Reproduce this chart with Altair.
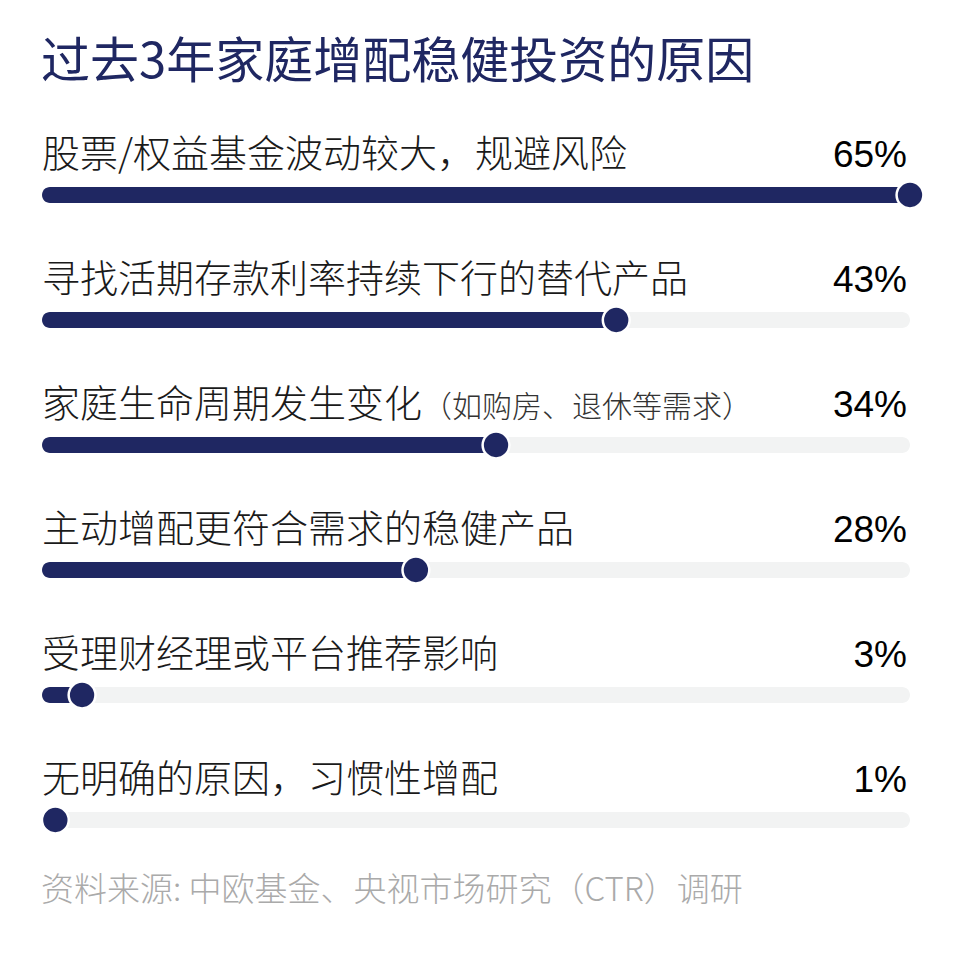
import altair as alt
import pandas as pd

title_text = "过去3年家庭增配稳健投资的原因"
source_text = "资料来源: 中欧基金、央视市场研究（CTR）调研"
reasons = [
    "股票/权益基金波动较大，规避风险",
    "寻找活期存款利率持续下行的替代产品",
    "家庭生命周期发生变化",
    "主动增配更符合需求的稳健产品",
    "受理财经理或平台推荐影响",
    "无明确的原因，习惯性增配",
]
notes = ["", "", "（如购房、退休等需求）", "", "", ""]
values = [65, 43, 34, 28, 3, 1]
track_max = 65

NAVY = "#1f2762"
TRACK = "#f2f3f3"
FONT = "Noto Sans CJK SC"
LABEL_SIZE = 38
NOTE_SIZE = 30

df = pd.DataFrame({
    "idx": list(range(len(reasons))),
    "reason": reasons,
    "note": notes,
    "value": values,
    "zero": [0] * len(values),
    "full": [track_max] * len(values),
    "vlabel": [f"{v}%" for v in values],
    "noteoff": [len(r) * LABEL_SIZE for r in reasons],
})

xs = alt.Scale(domain=[0, track_max], range=[34, 902])
ys = alt.Scale(range=[124.5, 874.5], paddingInner=0, paddingOuter=0)
Y = alt.Y("idx:O", scale=ys, axis=None)

base = alt.Chart(df)

track = base.mark_bar(orient="horizontal", size=16, cornerRadius=8, color=TRACK).encode(
    x=alt.X("zero:Q", scale=xs, axis=None), x2="full:Q", y=Y
)
bar = base.mark_bar(orient="horizontal", size=16, cornerRadius=8, color=NAVY).encode(
    x=alt.X("zero:Q", scale=xs, axis=None), x2="value:Q", y=Y
)
dot = base.mark_circle(size=720, fill=NAVY, stroke="white", strokeWidth=2.5, opacity=1).encode(
    x=alt.X("value:Q", scale=xs, axis=None), y=Y
)
label = base.mark_text(
    align="left", baseline="alphabetic", dy=-28, font=FONT, fontSize=LABEL_SIZE,
    fontWeight=300, color="#1a1a1a"
).encode(x=alt.value(34), y=Y, text="reason:N")

note = base.transform_filter("datum.note != ''").mark_text(
    align="left", baseline="alphabetic", dy=-28, font=FONT, fontSize=NOTE_SIZE,
    fontWeight=300, color="#333333"
).encode(x=alt.X("noteoff:Q", scale=alt.Scale(domain=[0, 944], range=[34, 978]), axis=None), y=Y, text="note:N")

vlabel = base.mark_text(
    align="right", baseline="alphabetic", dy=-28, font="Liberation Sans", fontSize=37, color="#000000"
).encode(x=alt.value(899), y=Y, text="vlabel:N")

title = alt.Chart(pd.DataFrame({"t": [title_text]})).mark_text(
    align="left", baseline="alphabetic", font=FONT, fontSize=49, fontWeight=400, color=NAVY
).encode(x=alt.value(33), y=alt.value(70), text="t:N")

source = alt.Chart(pd.DataFrame({"t": [source_text]})).mark_text(
    align="left", baseline="alphabetic", font=FONT, fontSize=33, fontWeight=300, color="#aaaaaa"
).encode(x=alt.value(33), y=alt.value(893), text="t:N")

chart = alt.layer(track, bar, dot, label, note, vlabel, title, source).properties(
    width=944, height=946, padding=0, autosize=alt.AutoSizeParams(type="none")
).configure_view(stroke=None).resolve_scale(x="independent")

chart.save("out.html", embed_options={"renderer": "svg", "actions": False})
